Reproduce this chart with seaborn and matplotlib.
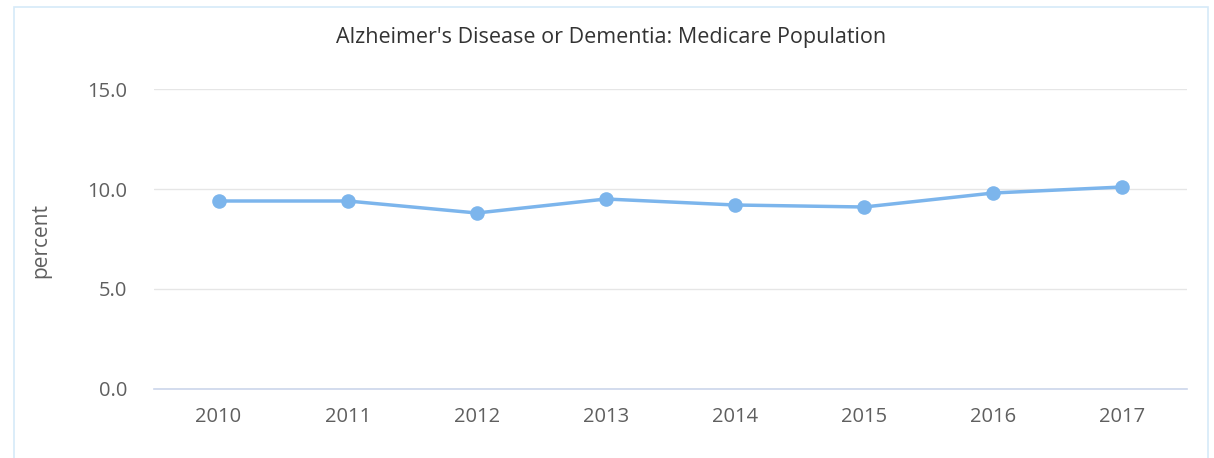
import matplotlib
matplotlib.use("Agg")
import matplotlib.pyplot as plt
import seaborn as sns
import pandas as pd
from matplotlib.patches import Rectangle

years = ['2010', '2011', '2012', '2013', '2014', '2015', '2016', '2017']
percent = [9.4, 9.4, 8.8, 9.5, 9.2, 9.1, 9.8, 10.1]
y_ticks = [0.0, 5.0, 10.0, 15.0]

df = pd.DataFrame({'Year': years, 'Percent': percent})

sns.set_theme(style="white")
plt.rcParams['font.family'] = ['Open Sans', 'DejaVu Sans']

W, H = 1214, 458
fig = plt.figure(figsize=(W / 100, H / 100), dpi=100)
ax = fig.add_axes([154 / W, 1 - 389 / H, (1187 - 154) / W, (389 - 89) / H])

# outer frame of the chart container
fig.patches.append(Rectangle((14 / W, -0.05), (1208 - 14) / W, 1 - 7 / H + 0.05,
                             transform=fig.transFigure, fill=False,
                             edgecolor='#d6eaf8', linewidth=1.2))

sns.lineplot(data=df, x='Year', y='Percent', ax=ax, color='#7cb5ec',
             linewidth=2.5, marker='o', markersize=10.5, markeredgewidth=0,
             sort=False)

ax.set_xlim(-0.5, len(years) - 0.5)
ax.set_ylim(0, 15)
ax.set_yticks(y_ticks)
ax.set_yticklabels([f"{v:.1f}" for v in y_ticks])
ax.yaxis.grid(True, color='#e6e6e6', linewidth=1)
ax.xaxis.grid(False)
ax.set_axisbelow(True)
for side in ['top', 'right', 'left']:
    ax.spines[side].set_visible(False)
ax.spines['bottom'].set_color('#ccd6eb')
ax.spines['bottom'].set_linewidth(1.2)
ax.tick_params(axis='both', length=0, labelsize=14.5, colors='#5f5f5f')
ax.tick_params(axis='x', pad=13)
ax.tick_params(axis='y', pad=19)
ax.set_xlabel('')
ax.set_ylabel('')
fig.text(41 / W, 1 - 240 / H, 'percent', rotation=90, ha='center', va='center',
         fontsize=15, color='#5f5f5f')
fig.text((14 + 1208) / 2 / W, 1 - 37 / H, "Alzheimer's Disease or Dementia: Medicare Population",
         ha='center', va='center', fontsize=15.5, color='#333333')

fig.savefig('out.png', dpi=100)
